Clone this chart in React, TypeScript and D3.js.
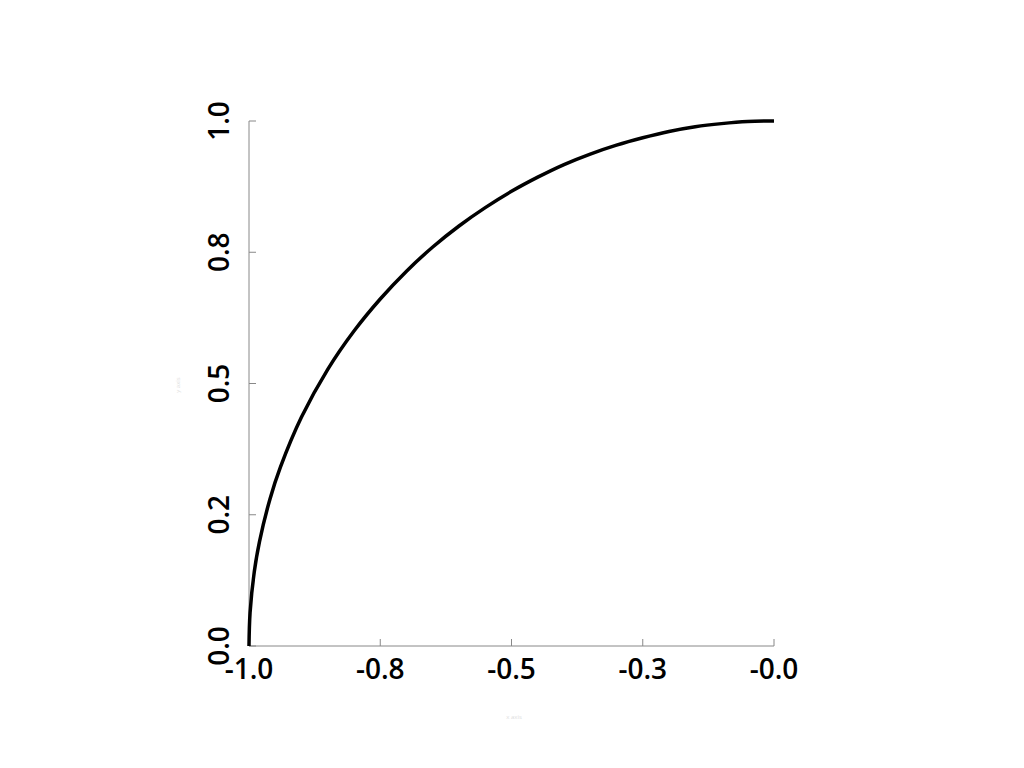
import React from 'react';
import * as d3 from 'd3';

// curve points
const xValues = [-1, -0.998, -0.99, -0.98, -0.96, -0.94, -0.9, -0.85, -0.8, -0.75, -0.7, -0.65, -0.6, -0.55, -0.5, -0.45, -0.4, -0.35, -0.3, -0.25, -0.2, -0.15, -0.1, -0.05, 0];
const yValues = [0, 0.063, 0.141, 0.199, 0.28, 0.341, 0.436, 0.527, 0.6, 0.661, 0.714, 0.76, 0.8, 0.835, 0.866, 0.893, 0.917, 0.937, 0.954, 0.968, 0.98, 0.989, 0.995, 0.999, 1.0];

const xTicks = [-1, -0.75, -0.5, -0.25, 0];
const xTickLabels = ['-1.0', '-0.8', '-0.5', '-0.3', '-0.0'];
const yTicks = [0, 0.25, 0.5, 0.75, 1];
const yTickLabels = ['0.0', '0.2', '0.5', '0.8', '1.0'];

const xTitle = 'x axis';
const yTitle = 'y axis';

const WIDTH = 1024;
const HEIGHT = 768;

export default function App() {
  const xScale = d3.scaleLinear().domain([-1, 0]).range([249, 774]);
  const yScale = d3.scaleLinear().domain([0, 1]).range([646, 121]);

  const points: Array<[number, number]> = xValues.map((x, i) => [x, yValues[i]]);
  const line = d3
    .line<[number, number]>()
    .x(d => xScale(d[0]))
    .y(d => yScale(d[1]))
    .curve(d3.curveCatmullRom);

  const font = '"Open Sans", sans-serif';
  const x0 = xScale(-1);
  const y0 = yScale(0);

  return (
    <svg
      width={WIDTH}
      height={HEIGHT}
      style={{ position: 'absolute', left: 0, top: 0, background: '#fff' }}
    >
      {/* x轴 */}
      <g>
        <line x1={x0} x2={xScale(0)} y1={y0} y2={y0} stroke="#888" strokeWidth={1} />
        {xTicks.map((t, i) => (
          <g key={i} transform={`translate(${xScale(t)},${y0})`}>
            <line y1={0} y2={-7} stroke="#888" strokeWidth={1} />
            <text
              y={33}
              textAnchor="middle"
              fontFamily={font}
              fontWeight={600}
              fontSize={28}
              fill="#000"
            >
              {xTickLabels[i]}
            </text>
          </g>
        ))}
      </g>

      {/* y轴 */}
      <g>
        <line x1={x0} x2={x0} y1={y0} y2={yScale(1)} stroke="#888" strokeWidth={1} />
        {yTicks.map((t, i) => (
          <g key={i} transform={`translate(${x0},${yScale(t)})`}>
            <line x1={0} x2={7} stroke="#888" strokeWidth={1} />
            <text
              transform={`translate(-20,0) rotate(-90)`}
              textAnchor="middle"
              fontFamily={font}
              fontWeight={600}
              fontSize={28}
              fill="#000"
            >
              {yTickLabels[i]}
            </text>
          </g>
        ))}
      </g>

      {/* 轴标题 */}
      <text x={514} y={719} textAnchor="middle" fontFamily={font} fontSize={6} fill="#ddd">
        {xTitle}
      </text>
      <text
        transform={`translate(180,385) rotate(-90)`}
        textAnchor="middle"
        fontFamily={font}
        fontSize={6}
        fill="#ddd"
      >
        {yTitle}
      </text>

      {/* 曲线 */}
      <path d={line(points) || ''} fill="none" stroke="#000" strokeWidth={3.5} />
    </svg>
  );
}
